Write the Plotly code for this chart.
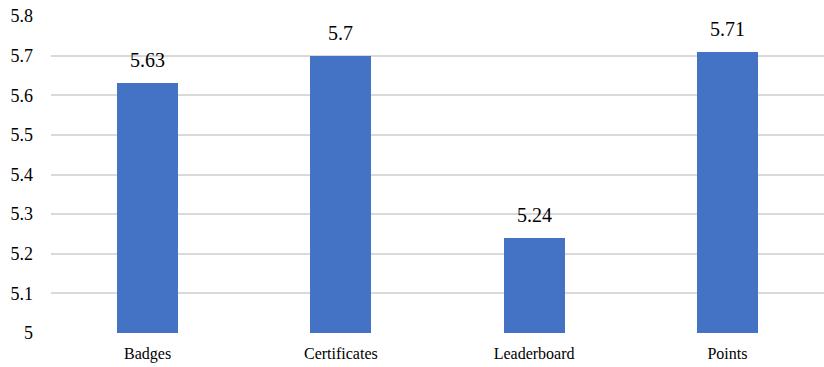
import plotly.graph_objects as go

categories = ["Badges", "Certificates", "Leaderboard", "Points"]
values = [5.63, 5.70, 5.24, 5.71]
y_ticks = [5.0, 5.1, 5.2, 5.3, 5.4, 5.5, 5.6, 5.7, 5.8]
y_tick_labels = ["5", "5.1", "5.2", "5.3", "5.4", "5.5", "5.6", "5.7", "5.8"]

BAR_COLOR = "#4472C4"
FONT = "'Liberation Serif', 'Times New Roman', serif"

fig = go.Figure()
fig.add_trace(go.Bar(
    x=categories,
    y=values,
    marker=dict(color=BAR_COLOR, line=dict(width=0)),
    width=0.315,
    hoverinfo="skip",
))

# value labels above each bar
for c, v in zip(categories, values):
    fig.add_annotation(
        x=c, y=v, text=f"{v:g}", showarrow=False,
        yanchor="bottom", yshift=10,
        font=dict(family=FONT, size=20, color="#000000"),
    )

fig.update_layout(
    width=824, height=367,
    margin=dict(l=51, r=0, t=16, b=34),
    paper_bgcolor="white", plot_bgcolor="white",
    showlegend=False,
    font=dict(family=FONT, color="#000000"),
    bargap=0,
)
fig.update_xaxes(
    showgrid=False, showline=False, zeroline=False,
    tickfont=dict(family=FONT, size=16, color="#000000"),
    ticks="", ticklabelstandoff=9,
)
fig.update_yaxes(
    range=[5, 5.8],
    tickvals=y_ticks, ticktext=y_tick_labels,
    showgrid=True, gridcolor="#d9d9d9", gridwidth=1.5,
    zeroline=False, showline=False, ticks="",
    tickfont=dict(family=FONT, size=18, color="#000000"),
    ticklabelstandoff=17,
)

fig.write_html("out.html")
